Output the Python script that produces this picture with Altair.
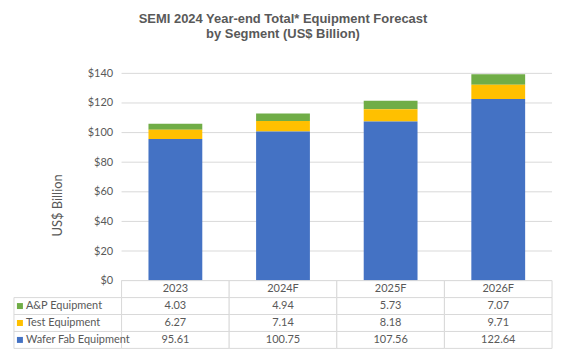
import altair as alt
import pandas as pd

categories = ["2023", "2024F", "2025F", "2026F"]
segments = ["A&P Equipment", "Test Equipment", "Wafer Fab Equipment"]
ap_equipment = [4.03, 4.94, 5.73, 7.07]
test_equipment = [6.27, 7.14, 8.18, 9.71]
wafer_fab_equipment = [95.61, 100.75, 107.56, 122.64]
y_ticks = [0, 20, 40, 60, 80, 100, 120, 140]
segment_colors = ["#70AD47", "#FFC000", "#4472C4"]
stack_rank = [2, 1, 0]  # A&P on top, wafer fab at the bottom

TEXT = "#595959"
GRID = "#d9d9d9"
FONT = "Lato"
LABEL_COL = "Segment"
W = 540

series = dict(zip(segments, [ap_equipment, test_equipment, wafer_fab_equipment]))

bar_rows = []
for seg, rank in zip(segments, stack_rank):
    for cat, v in zip(categories, series[seg]):
        bar_rows.append({"category": cat, "segment": seg, "value": v, "rank": rank})
bars_df = pd.DataFrame(bar_rows)

table_rows = []
for cat in categories:
    table_rows.append({"col": cat, "row": "header", "text": cat, "segment": ""})
for seg in segments:
    table_rows.append({"col": LABEL_COL, "row": seg, "text": seg, "segment": seg})
    for cat, v in zip(categories, series[seg]):
        table_rows.append({"col": cat, "row": seg, "text": f"{v:.2f}", "segment": seg})
table_df = pd.DataFrame(table_rows)

x_scale = alt.Scale(domain=[LABEL_COL] + categories, paddingInner=0, paddingOuter=0)
y_scale = alt.Scale(domain=[0, 140], nice=False)
color_scale = alt.Scale(domain=segments, range=segment_colors)

y_axis = alt.Axis(
    values=y_ticks,
    format="$,.0f",
    grid=False,
    domain=False,
    ticks=False,
    labelPadding=9,
    labelFont=FONT,
    labelFontSize=11,
    labelColor=TEXT,
    offset=-108,
    title="US$ Billion",
    titleFont=FONT,
    titleFontSize=13,
    titleFontWeight="normal",
    titleColor=TEXT,
    titleAngle=-90,
    titleAlign="center",
    titleBaseline="middle",
    titleX=-64,
    titleY=132,
)

grid = alt.Chart(pd.DataFrame({"tick": y_ticks})).mark_rule(
    color=GRID, strokeWidth=1
).encode(
    x=alt.XDatum(categories[0], type="nominal", bandPosition=0, scale=x_scale, axis=None),
    x2=alt.X2Datum(categories[-1], bandPosition=1),
    y=alt.Y("tick:Q", scale=y_scale, axis=y_axis, title="US$ Billion"),
)

bars = alt.Chart(bars_df).mark_bar(width={"band": 0.5}).encode(
    x=alt.X("category:N", scale=x_scale, axis=None),
    y=alt.Y("value:Q", stack="zero", scale=y_scale, axis=y_axis, title="US$ Billion"),
    color=alt.Color("segment:N", scale=color_scale, legend=None),
    order=alt.Order("rank:Q", sort="ascending"),
)

top = alt.layer(grid, bars).properties(width=W, height=208)

row_scale = alt.Scale(domain=["header"] + segments, paddingInner=0, paddingOuter=0)
tbase = alt.Chart(table_df)

cells = tbase.mark_rect(fill="white", stroke=GRID, strokeWidth=1).encode(
    x=alt.X("col:N", scale=x_scale, axis=None),
    y=alt.Y("row:N", scale=row_scale, axis=None),
)
values = tbase.transform_filter(alt.datum.col != LABEL_COL).mark_text(
    font=FONT, fontSize=11, color=TEXT
).encode(
    x=alt.X("col:N", scale=x_scale, axis=None),
    y=alt.Y("row:N", scale=row_scale, axis=None),
    text="text:N",
)
labels = tbase.transform_filter(alt.datum.col == LABEL_COL).mark_text(
    font=FONT, fontSize=11, color=TEXT, align="left", dx=12
).encode(
    x=alt.X("col:N", scale=x_scale, axis=None, bandPosition=0),
    y=alt.Y("row:N", scale=row_scale, axis=None),
    text="text:N",
)
keys = tbase.transform_filter(alt.datum.col == LABEL_COL).mark_square(
    size=36, opacity=1, xOffset=6
).encode(
    x=alt.X("col:N", scale=x_scale, axis=None, bandPosition=0),
    y=alt.Y("row:N", scale=row_scale, axis=None),
    color=alt.Color("segment:N", scale=color_scale, legend=None),
)

table = alt.layer(cells, values, labels, keys).properties(width=W, height=68)

chart = alt.vconcat(top, table, spacing=0, bounds="flush").properties(
    title=alt.TitleParams(
        ["SEMI 2024 Year-end Total* Equipment Forecast", "by Segment (US$ Billion)"],
        font="Liberation Sans",
        fontSize=13,
        fontWeight="bold",
        color=TEXT,
        anchor="middle",
        lineHeight=16,
        offset=26,
    ),
    padding={"left": 13, "top": 12, "right": 14, "bottom": 6},
    background="white",
).configure_view(stroke=None).configure_concat(spacing=0)

chart.save("out.html", embed_options={"renderer": "svg", "actions": False})
